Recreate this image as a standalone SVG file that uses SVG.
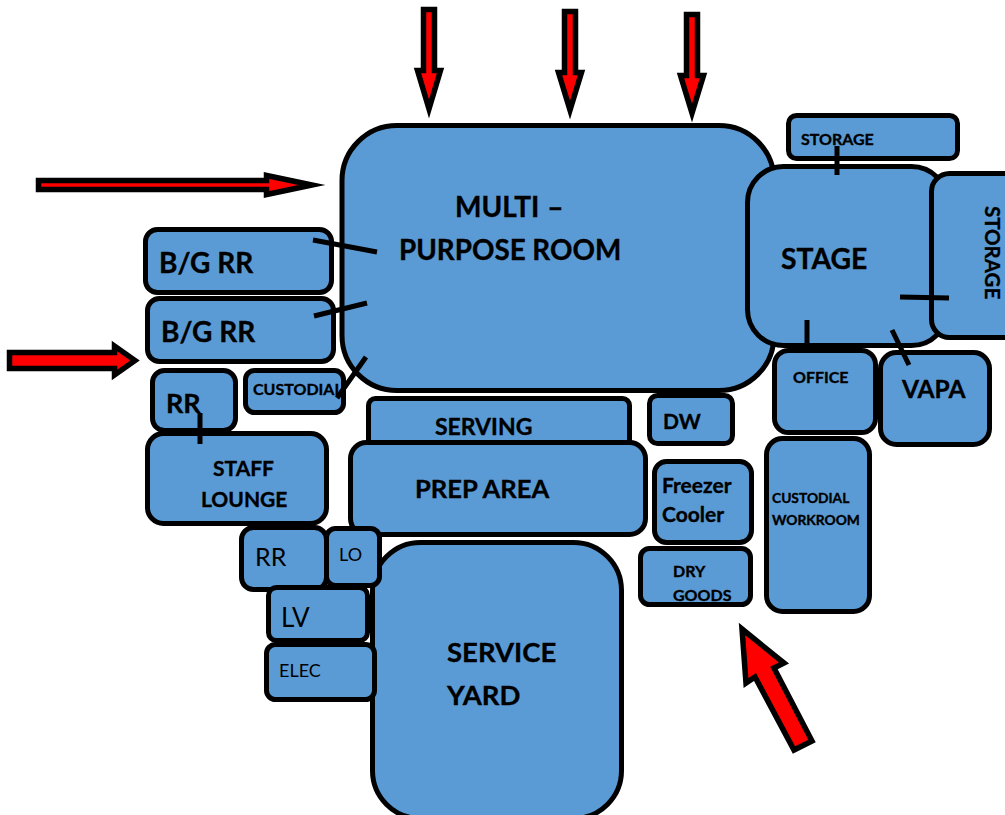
<svg xmlns="http://www.w3.org/2000/svg" width="1005" height="815" viewBox="0 0 1005 815">
<style>
.n{fill:#5b9bd5;stroke:#000;stroke-width:5}
.a{fill:#f00;stroke:#000;stroke-width:5.500;stroke-miterlimit:10}
.c{stroke:#000;stroke-width:5;fill:none}
text{font-family:Lato,"Liberation Sans",sans-serif;fill:#000}
.b{font-weight:700;stroke:#000;stroke-width:.35}
</style>
<rect width="1005" height="815" fill="#fff"/>
<g id="multi"><rect class="n" x="342" y="125.500" width="432" height="265" rx="55"/><text class="b" x="455" y="217" font-size="28" word-spacing="1">MULTI –</text><text class="b" x="399" y="260" font-size="27.800">PURPOSE ROOM</text></g>
<g id="stage"><rect class="n" x="747.500" y="166.500" width="200" height="179" rx="36"/><text class="b" x="781" y="269" font-size="28.300">STAGE</text></g>
<g id="storage-side"><rect class="n" x="931.500" y="173.500" width="90" height="164" rx="18"/><text class="b" transform="translate(985 206) rotate(90)" font-size="20.500">STORAGE</text></g>
<g id="storage-top"><rect class="n" x="788.500" y="115.500" width="169" height="43" rx="8"/><text class="b" x="801" y="145" font-size="16">STORAGE</text></g>
<g id="bg-rr-1"><rect class="n" x="145.500" y="229.500" width="186" height="63" rx="12"/><text class="b" x="159" y="273" font-size="28">B/G RR</text></g>
<g id="bg-rr-2"><rect class="n" x="147.500" y="298.500" width="186" height="63" rx="12"/><text class="b" x="161" y="342" font-size="28">B/G RR</text></g>
<g id="rr-1"><rect class="n" x="152.500" y="370.500" width="83" height="60" rx="12"/><text class="b" x="166" y="413" font-size="27">RR</text></g>
<g id="custodial"><rect class="n" x="245.500" y="370.500" width="98" height="42" rx="9"/><text class="b" x="253" y="395" font-size="16">CUSTODIAL</text></g>
<g id="staff-lounge"><rect class="n" x="147.500" y="433.500" width="179" height="90" rx="16"/><text class="b" x="213" y="476" font-size="21">STAFF</text><text class="b" x="201" y="507" font-size="21">LOUNGE</text></g>
<g id="serving"><rect class="n" x="368.500" y="398.500" width="261" height="50" rx="7"/><text class="b" x="435" y="435" font-size="23">SERVING</text></g>
<g id="prep-area"><rect class="n" x="350.500" y="442.500" width="295" height="92" rx="16"/><text class="b" x="415" y="498" font-size="25.600">PREP AREA</text></g>
<g id="dw"><rect class="n" x="649.500" y="395.500" width="83" height="48" rx="8"/><text class="b" x="663" y="429" font-size="21">DW</text></g>
<g id="freezer-cooler"><rect class="n" x="654.500" y="461.500" width="97" height="81" rx="12"/><text class="b" x="662" y="493" font-size="21">Freezer</text><text class="b" x="662" y="522" font-size="21">Cooler</text></g>
<g id="dry-goods"><rect class="n" x="640.500" y="548.500" width="110" height="56" rx="9"/><text class="b" x="673" y="577" font-size="16">DRY</text><text class="b" x="673" y="601" font-size="16">GOODS</text></g>
<g id="custodial-workroom"><rect class="n" x="766.500" y="438.500" width="103" height="173" rx="16"/><text class="b" x="772" y="503" font-size="13.800">CUSTODIAL</text><text class="b" x="772" y="525" font-size="13.800">WORKROOM</text></g>
<g id="office"><rect class="n" x="774.500" y="350.500" width="101" height="82" rx="14"/><text class="b" x="793" y="383" font-size="16">OFFICE</text></g>
<g id="vapa"><rect class="n" x="880.500" y="352.500" width="109" height="92" rx="16"/><text class="b" x="902" y="398" font-size="24.500">VAPA</text></g>
<g id="service-yard"><rect class="n" x="372.500" y="542.500" width="249" height="276" rx="48"/><text class="b" x="447" y="662" font-size="27.500">SERVICE</text><text class="b" x="447" y="705" font-size="27.500">YARD</text></g>
<g id="rr-2"><rect class="n" x="241.500" y="527.500" width="85" height="62" rx="12"/><text x="255" y="566" font-size="25">RR</text></g>
<g id="lo"><rect class="n" x="326.500" y="528.500" width="53" height="57" rx="9"/><text x="339" y="561" font-size="18">LO</text></g>
<g id="lv"><rect class="n" x="268.500" y="587.500" width="99" height="53" rx="8"/><text x="281" y="627" font-size="26">LV</text></g>
<g id="elec"><rect class="n" x="266.500" y="644.500" width="108" height="55" rx="9"/><text x="279" y="677" font-size="18">ELEC</text></g>
<g id="connectors">
<path class="c" d="M313 240L377 252M314 316L367 303M366 357L337 398M200 413V444M837 146V175M900 297L949 298M807 320V350M892 330L909 365"/>
<path class="a" d="M423.500 9.500H434.500V70.500H440.500L429 109L417.500 70.500H423.500Z"/>
<path class="a" d="M564.500 11.500H575.500V72.500H581.500L570 110L558.500 72.500H564.500Z"/>
<path class="a" d="M686.500 14.500H697.500V75.500H703.500L692 113L680.500 75.500H686.500Z"/>
<path class="a" d="M38.500 180.500H266.500V175.500L312 185L266.500 194.500V189.500H38.500Z"/>
<path class="a" d="M9.500 352.500H114.500V346L135 360.500L114.500 375V368.500H9.500Z"/>
<path class="a" d="M742 629L784 663L774 668L812 741L794 750L755 677L746 683Z"/>
</g>
</svg>
